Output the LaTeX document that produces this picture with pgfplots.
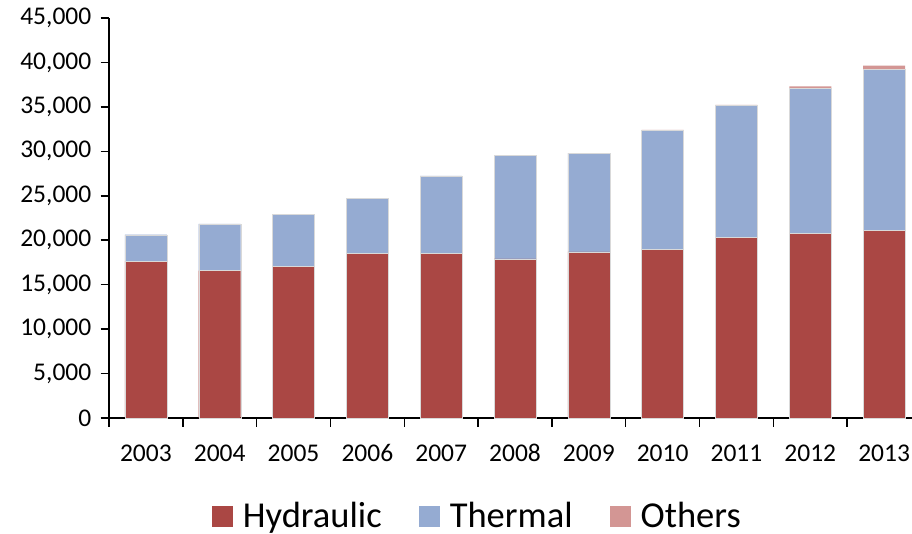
\documentclass[border=0pt]{standalone}
\usepackage{pgfplots}
\pgfplotsset{compat=1.18}
\usepackage{fontspec}
\setmainfont{Carlito}
\definecolor{hyd}{RGB}{170,71,68}
\definecolor{the}{RGB}{149,171,210}
\definecolor{oth}{RGB}{211,150,148}
\begin{document}
\begin{tikzpicture}
\path[use as bounding box] (-109pt,-115pt) rectangle (803pt,418pt);
\begin{axis}[
  at={(0pt,0pt)}, anchor=south west,
  scale only axis, width=812pt, height=400pt,
  xmin=-0.5, xmax=10.5, ymin=0, ymax=45000,
  ybar stacked, bar width=42pt,
  axis lines=left,
  axis line style={-, line width=1.5pt, black},
  ytick={0,5000,...,45000},
  scaled y ticks=false,
  /pgf/number format/fixed,
  /pgf/number format/1000 sep={,},
  /pgf/number format/assume math mode=true,
  xtick={-0.5,0.5,...,10.5},
  x tick label as interval,
  xticklabels={2003,2004,2005,2006,2007,2008,2009,2010,2011,2012,2013},
  tick align=outside,
  major tick length=8.5pt,
  tick style={line width=1.5pt, black},
  tick label style={font=\fontsize{25.5}{30}\selectfont},
  yticklabel style={inner sep=0pt, anchor=east, xshift=-9pt},
  xticklabel style={inner sep=0pt, anchor=north, text height=16pt, text depth=0pt, yshift=-19pt},
  legend style={draw=none, fill=none, at={(0.1268,0)}, anchor=west, yshift=-98pt,
    legend columns=-1, inner sep=0pt, outer sep=0pt,
    font=\fontsize{36.5}{40}\selectfont,
    nodes={inner sep=0pt},
    /tikz/every odd column/.append style={column sep=10pt},
    /tikz/every even column/.append style={column sep=37pt}},
  legend image code/.code={\fill[#1,draw=none] (0pt,-10.5pt) rectangle (21pt,10.5pt);},
]
\addplot[fill=hyd, draw=white!85!black, line width=0.4pt] coordinates {
(0,17660) (1,16580) (2,17030) (3,18560) (4,18490) (5,17890) (6,18680) (7,18940) (8,20360) (9,20780) (10,21080)};
\addplot[fill=the, draw=white!85!black, line width=0.4pt] coordinates {
(0,2960) (1,5250) (2,5920) (3,6150) (4,8740) (5,11620) (6,11100) (7,13390) (8,14780) (9,16270) (10,18150)};
\addplot[fill=oth, draw=none] coordinates {
(0,0) (1,0) (2,0) (3,0) (4,0) (5,0) (6,20) (7,80) (8,90) (9,250) (10,400)};
\legend{Hydraulic,Thermal,Others}
\end{axis}
\end{tikzpicture}
\end{document}
